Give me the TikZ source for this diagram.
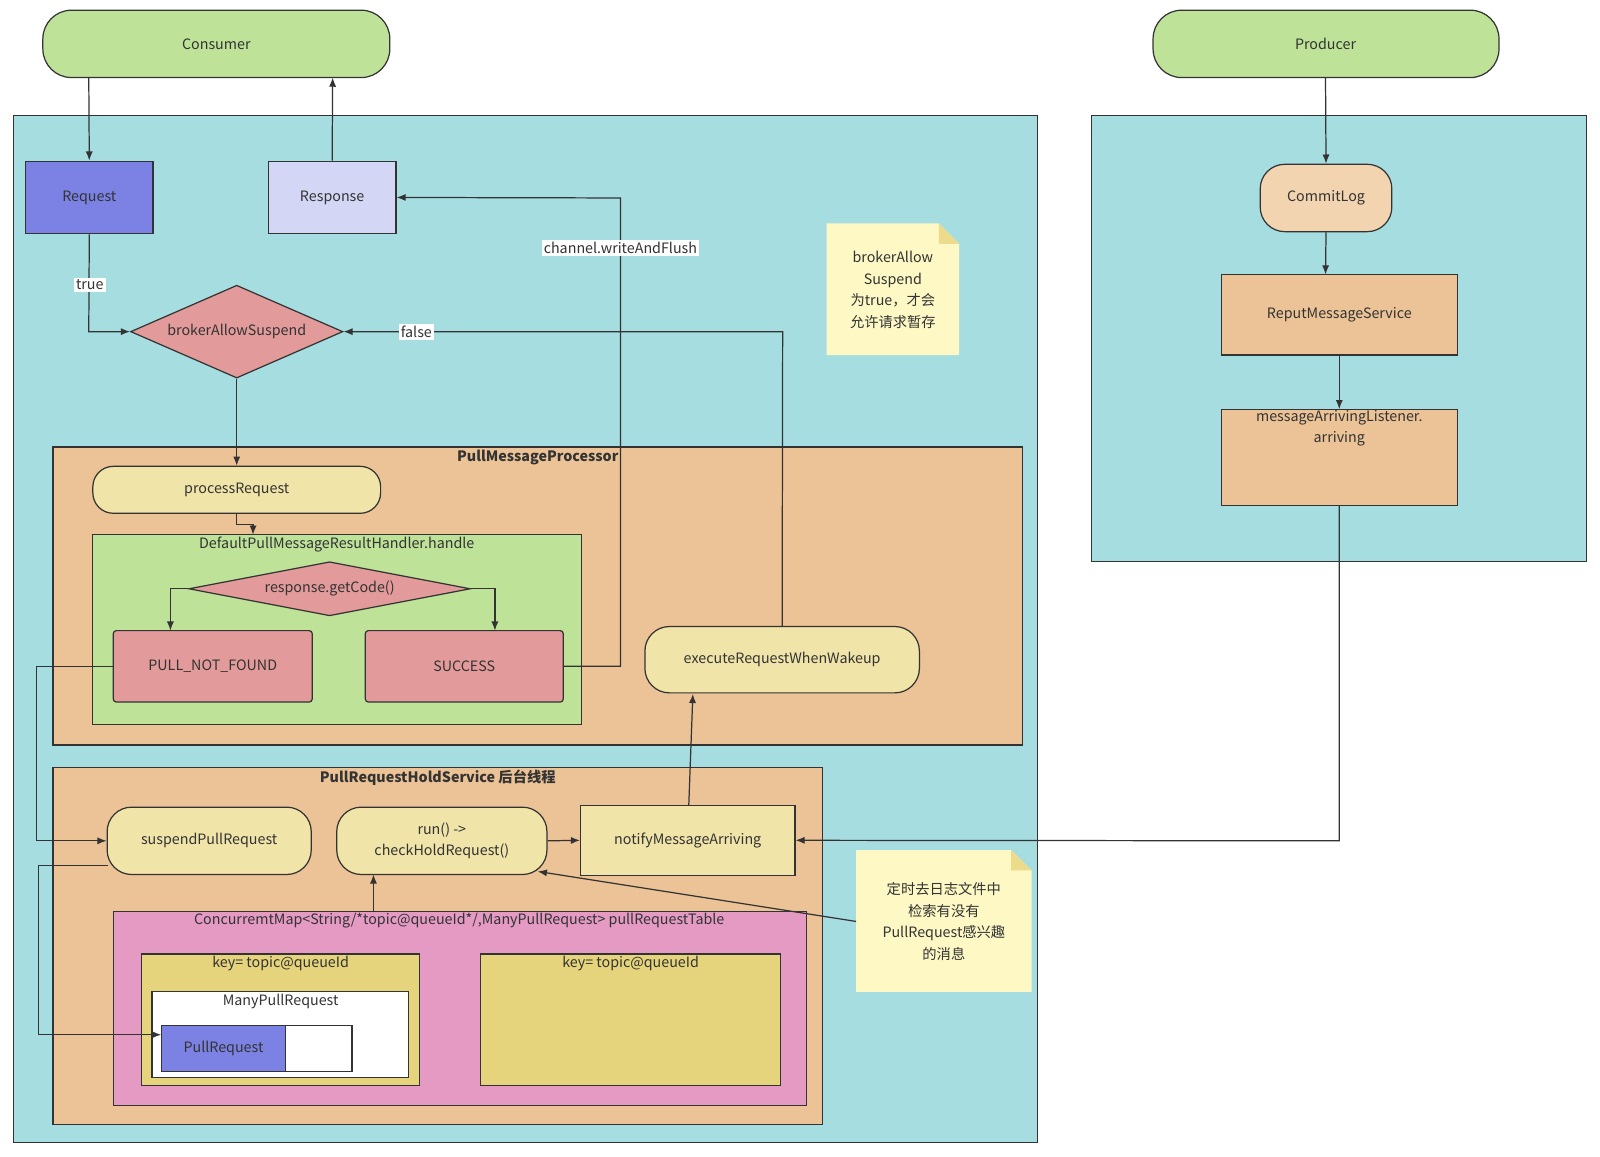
\documentclass[tikz,border=0pt]{standalone}
\usepackage{fontspec}
\setmainfont{Noto Sans CJK SC}
\usetikzlibrary{arrows.meta,shapes.geometric}
\definecolor{cgreen}{HTML}{BDE298}
\definecolor{cteal}{HTML}{A6DDE0}
\definecolor{corange}{HTML}{EBC396}
\definecolor{cyel}{HTML}{F0E4A8}
\definecolor{cred}{HTML}{E39A9A}
\definecolor{cblue}{HTML}{7B82E3}
\definecolor{clblue}{HTML}{D4D6F5}
\definecolor{cpink}{HTML}{E59AC4}
\definecolor{ckey}{HTML}{E6D47C}
\definecolor{cnote}{HTML}{FDF8C4}
\definecolor{cpeach}{HTML}{F2D5B0}
\definecolor{cline}{HTML}{333333}
\tikzset{
  box/.style={draw=cline,line width=1.2pt,text=cline},
  pill/.style={box,rounded corners=20pt},
  arr/.style={draw=cline,line width=1.2pt,-{Latex[length=9pt,width=7pt]}},
  lbl/.style={fill=white,inner sep=2pt,text=cline},
  ttl/.style={text=cline,anchor=north,inner sep=0pt},
}
\begin{document}
\begin{tikzpicture}[x=1pt,y=-1pt,font=\fontsize{14}{17}\selectfont]
\useasboundingbox (0,0) rectangle (1568,1133);
% panels
\draw[box,fill=cteal] (13,113) rectangle (1017,1120);
\draw[box,fill=cteal] (1070,113) rectangle (1555,550);
% top pills
\draw[pill,fill=cgreen,rounded corners=28pt] (42,10) rectangle (382,76);
\node[text=cline] (consumer) at (212,43) {Consumer};
\coordinate (consumerB) at (212,76);
\draw[pill,fill=cgreen,rounded corners=28pt] (1130,10) rectangle (1469,76);
\node[text=cline] (producer) at (1299,43) {Producer};
% request/response
\node[box,fill=cblue,minimum width=125pt,minimum height=71pt] (req) at (87.5,193.5) {Request};
\node[box,fill=clblue,minimum width=125pt,minimum height=71pt] (resp) at (325.5,193.5) {Response};
% diamond
\node[box,fill=cred,diamond,aspect=2.3,minimum width=208pt,minimum height=91pt,inner sep=0pt] (bas) at (232,325) {brokerAllowSuspend};
% note 1
\fill[cnote] (810,219) -- (920,219) -- (940,239) -- (940,348) -- (810,348) -- cycle;
\fill[ckey!80!cnote] (920,219) -- (940,239) -- (920,239) -- cycle;
\node[align=center,text=cline,font=\fontsize{14}{21}\selectfont] (note1) at (875,284) {brokerAllow\\Suspend\\为true，才会\\允许请求暂存};
% PullMessageProcessor
\draw[box,fill=corange] (52,438) rectangle (1002,730);
\node[ttl,font=\fontsize{14}{17}\selectfont\bfseries] (pmp) at (527,441) {PullMessageProcessor};
\node[pill,fill=cyel,minimum width=282pt,minimum height=46pt] (proc) at (232,480) {processRequest};
\draw[box,fill=cgreen] (91,524) rectangle (570,710);
\node[ttl] (dh) at (330,526) {DefaultPullMessageResultHandler.handle};
\coordinate (dhT) at (248,524);
\node[box,fill=cred,diamond,aspect=5.2,minimum width=276pt,minimum height=53pt,inner sep=0pt] (gc) at (323,577) {response.getCode()};
\node[box,fill=cred,rounded corners=3pt,minimum width=195pt,minimum height=70pt] (pnf) at (208.5,653) {PULL\_NOT\_FOUND};
\node[box,fill=cred,rounded corners=3pt,minimum width=194pt,minimum height=70pt] (succ) at (455,653) {SUCCESS};
\node[pill,fill=cyel,rounded corners=24pt,minimum width=269pt,minimum height=65pt] (exec) at (766.5,646.5) {executeRequestWhenWakeup};
% PullRequestHoldService
\draw[box,fill=corange] (52,752) rectangle (806,1102);
\node[ttl,font=\fontsize{14}{17}\selectfont\bfseries] (prhs) at (429,754) {PullRequestHoldService 后台线程};
\node[pill,fill=cyel,rounded corners=24pt,minimum width=200pt,minimum height=66pt] (susp) at (205,824) {suspendPullRequest};
\node[pill,fill=cyel,rounded corners=24pt,minimum width=206pt,minimum height=66pt,align=center,font=\fontsize{14}{21}\selectfont] (run) at (433,824) {run() -{}>\\checkHoldRequest()};
\node[box,fill=cyel,minimum width=210pt,minimum height=69pt] (notify) at (674,823.5) {notifyMessageArriving};
\draw[box,fill=cpink] (111,893) rectangle (790,1083);
\node[ttl] (cm) at (450,895) {ConcurremtMap<String/*topic@queueId*/,ManyPullRequest> pullRequestTable};
\coordinate (cmT) at (366,893);
\draw[box,fill=ckey] (139,935) rectangle (411,1064);
\node[ttl] (k1) at (275,937) {key= topic@queueId};
\draw[box,fill=white] (149,972) rectangle (400,1056);
\node[ttl] (mpr) at (275,974) {ManyPullRequest};
\draw[box,fill=white] (280,1005) rectangle (345,1050);
\node[box,fill=cblue,minimum width=122pt,minimum height=45pt] (pr) at (219,1027.5) {PullRequest};
\draw[box,fill=ckey] (471,935) rectangle (765,1064);
\node[ttl] (k2) at (618,937) {key= topic@queueId};
% note 2
\fill[cnote] (839,833) -- (991,833) -- (1011,853) -- (1011,972) -- (839,972) -- cycle;
\fill[ckey!80!cnote] (991,833) -- (1011,853) -- (991,853) -- cycle;
\node[align=center,text=cline,font=\fontsize{14}{21}\selectfont] (note2) at (925,903) {定时去日志文件中\\检索有没有\\PullRequest感兴趣\\的消息};
% right side
\node[pill,fill=cpeach,rounded corners=24pt,minimum width=129pt,minimum height=66pt] (cl) at (1299.5,194) {CommitLog};
\node[box,fill=corange,minimum width=231pt,minimum height=79pt] (reput) at (1312.5,308.5) {ReputMessageService};
\draw[box,fill=corange] (1197,401) rectangle (1428,495);
\node[ttl,align=center,font=\fontsize{14}{21}\selectfont] (mal) at (1312.5,402) {messageArrivingListener.\\arriving};
\coordinate (malT) at (1312.5,401);
\coordinate (malB) at (1312.5,495);
% connectors
\draw[arr] (87,76) -- (req.north);
\draw[arr] (resp.north) -- (326,76);
\draw[arr] (req.south) -- (87,325) -- (bas.west) node[pos=0.5] {};
\node[lbl] (ltrue) at (88,279) {true};
\draw[arr] (bas.south) -- (proc.north);
\draw[arr] (exec.north) -- (767,325) -- (bas.east);
\node[lbl] (lfalse) at (408,325) {false};
\draw[arr] (proc.south) -- (232,514) -- (248,514) -- (dhT);
\draw[arr] (gc.west) -- (167,577) -- (167,618);
\draw[arr] (gc.east) -- (485,577) -- (485,618);
\draw[arr] (succ.east) -- (608,653) -- (608,194) -- (resp.east);
\node[lbl] (lcw) at (608,243) {channel.writeAndFlush};
\draw[arr] (pnf.west) -- (36,653) -- (36,824) -- (susp.west);
\draw[arr] (106,848) -- (38,848) -- (38,1014) -- (158,1014);
\draw[arr] (run.east) -- (notify.west);
\draw[arr] (675,789) -- (679,680);
\draw[arr] (malB) -- (1312.5,824) -- (notify.east);
\draw[arr] (1299,76) -- (cl.north);
\draw[arr] (cl.south) -- (1299,269);
\draw[arr] (reput.south) -- (malT);
\draw[arr] (cmT) -- (366,857);
\draw[arr] (839,903) -- (527,854);
\end{tikzpicture}
\end{document}
